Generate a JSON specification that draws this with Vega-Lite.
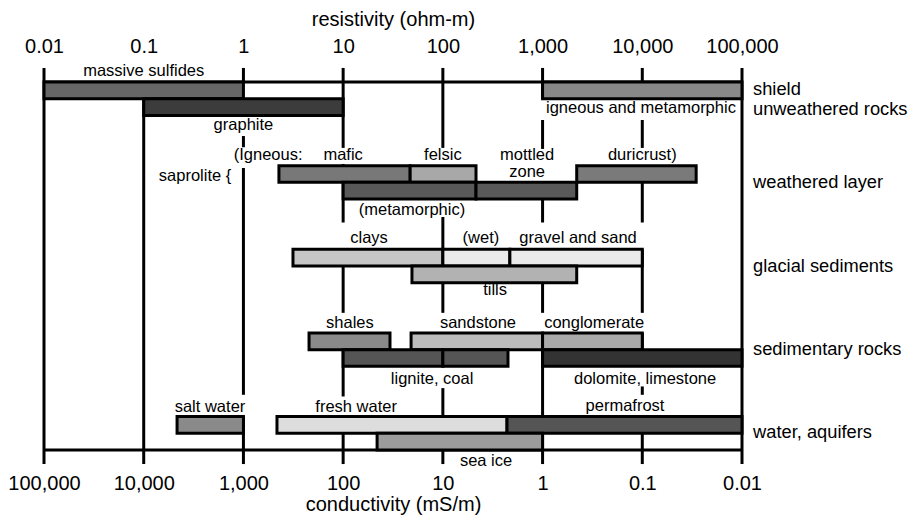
{
  "$schema": "https://vega.github.io/schema/vega-lite/v6.json",
  "width": 698,
  "height": 368,
  "autosize": {"type": "none"},
  "padding": {"left": 44, "top": 82, "right": 167, "bottom": 71},
  "background": "white",
  "config": {
    "font": "Liberation Sans",
    "view": {"stroke": null},
    "axis": {
      "domain": false, "ticks": false, "grid": false,
      "labelFontSize": 20, "titleFontSize": 20, "titleFontWeight": "normal",
      "labelColor": "black", "titleColor": "black",
      "labelFlush": false, "labelOverlap": false,
      "labelFont": "Liberation Sans", "titleFont": "Liberation Sans"
    }
  },
  "datasets": {
    "bars": [
      {"material": "massive sulfides", "lo": 0.01, "hi": 1, "top": 0, "bottom": 1},
      {"material": "shield", "lo": 1000, "hi": 100000, "top": 0, "bottom": 1},
      {"material": "graphite", "lo": 0.1, "hi": 10, "top": 1, "bottom": 2},
      {"material": "mafic", "lo": 2.27, "hi": 47, "top": 5, "bottom": 6},
      {"material": "felsic", "lo": 47, "hi": 215, "top": 5, "bottom": 6},
      {"material": "duricrust", "lo": 2200, "hi": 34700, "top": 5, "bottom": 6},
      {"material": "metamorphic", "lo": 10, "hi": 215, "top": 6, "bottom": 7},
      {"material": "mottled zone", "lo": 215, "hi": 2200, "top": 6, "bottom": 7},
      {"material": "clays", "lo": 3.14, "hi": 100, "top": 10, "bottom": 11},
      {"material": "wet", "lo": 100, "hi": 470, "top": 10, "bottom": 11},
      {"material": "gravel and sand", "lo": 470, "hi": 10000, "top": 10, "bottom": 11},
      {"material": "tills", "lo": 49, "hi": 2200, "top": 11, "bottom": 12},
      {"material": "shales", "lo": 4.55, "hi": 29.5, "top": 15, "bottom": 16},
      {"material": "sandstone", "lo": 48, "hi": 1000, "top": 15, "bottom": 16},
      {"material": "conglomerate", "lo": 1000, "hi": 10000, "top": 15, "bottom": 16},
      {"material": "lignite, coal", "lo": 10, "hi": 100, "top": 16, "bottom": 17},
      {"material": "lignite, coal", "lo": 100, "hi": 450, "top": 16, "bottom": 17},
      {"material": "dolomite, limestone", "lo": 1000, "hi": 100000, "top": 16, "bottom": 17},
      {"material": "salt water", "lo": 0.216, "hi": 1, "top": 20, "bottom": 21},
      {"material": "fresh water", "lo": 2.17, "hi": 440, "top": 20, "bottom": 21},
      {"material": "permafrost", "lo": 440, "hi": 100000, "top": 20, "bottom": 21},
      {"material": "sea ice", "lo": 21.9, "hi": 1000, "top": 21, "bottom": 22}
    ],
    "grid": [
      {"v": 0.01, "a": -0.84, "b": 22.84},
      {"v": 0.1, "a": 1, "b": 22.84},
      {"v": 1, "a": -0.84, "b": 0},
      {"v": 1, "a": 3.23, "b": 3.9},
      {"v": 1, "a": 5.14, "b": 18.7},
      {"v": 1, "a": 20, "b": 22.84},
      {"v": 10, "a": -0.84, "b": 3.94},
      {"v": 10, "a": 4.9, "b": 8.4},
      {"v": 10, "a": 10.9, "b": 13.8},
      {"v": 10, "a": 15, "b": 18.8},
      {"v": 10, "a": 21, "b": 22.84},
      {"v": 100, "a": -0.84, "b": 3.94},
      {"v": 100, "a": 8.07, "b": 10},
      {"v": 100, "a": 11, "b": 13.8},
      {"v": 100, "a": 18.3, "b": 20},
      {"v": 100, "a": 22, "b": 22.84},
      {"v": 1000, "a": -0.84, "b": 1},
      {"v": 1000, "a": 2.27, "b": 4.0},
      {"v": 1000, "a": 7, "b": 8.4},
      {"v": 1000, "a": 11, "b": 13.8},
      {"v": 1000, "a": 15, "b": 22.84},
      {"v": 10000, "a": -0.84, "b": 0},
      {"v": 10000, "a": 2.27, "b": 3.94},
      {"v": 10000, "a": 5, "b": 8.4},
      {"v": 10000, "a": 10, "b": 13.8},
      {"v": 10000, "a": 15, "b": 17},
      {"v": 10000, "a": 18.2, "b": 18.7},
      {"v": 10000, "a": 21, "b": 22.84},
      {"v": 100000, "a": -0.84, "b": 22.84}
    ],
    "hlines": [
      {"lo": 0.01, "hi": 100000, "level": 0},
      {"lo": 0.01, "hi": 100000, "level": 22}
    ],
    "labels": [
      {"text": "massive sulfides", "x": 0.1, "y": -0.66},
      {"text": "igneous and metamorphic", "x": 9700, "y": 1.55},
      {"text": "graphite", "x": 1, "y": 2.57},
      {"text": "(Igneous:", "x": 1.77, "y": 4.36},
      {"text": "saprolite {", "x": 0.327, "y": 5.62},
      {"text": "mafic", "x": 10, "y": 4.36},
      {"text": "felsic", "x": 100, "y": 4.36},
      {"text": "mottled", "x": 700, "y": 4.36},
      {"text": "zone", "x": 700, "y": 5.38},
      {"text": "duricrust)", "x": 10000, "y": 4.36},
      {"text": "(metamorphic)", "x": 49, "y": 7.65},
      {"text": "clays", "x": 18.2, "y": 9.32},
      {"text": "(wet)", "x": 241, "y": 9.32},
      {"text": "gravel and sand", "x": 2270, "y": 9.32},
      {"text": "tills", "x": 334, "y": 12.43},
      {"text": "shales", "x": 11.7, "y": 14.4},
      {"text": "sandstone", "x": 225, "y": 14.4},
      {"text": "conglomerate", "x": 3290, "y": 14.4},
      {"text": "lignite, coal", "x": 78, "y": 17.75},
      {"text": "dolomite, limestone", "x": 10670, "y": 17.75},
      {"text": "salt water", "x": 0.462, "y": 19.43},
      {"text": "fresh water", "x": 13.5, "y": 19.43},
      {"text": "permafrost", "x": 6710, "y": 19.37},
      {"text": "sea ice", "x": 271, "y": 22.65}
    ],
    "groups": [
      {"text": "shield", "x": 129000, "y": 0.48},
      {"text": "unweathered rocks", "x": 129000, "y": 1.67},
      {"text": "weathered layer", "x": 129000, "y": 6.04},
      {"text": "glacial sediments", "x": 129000, "y": 11.06},
      {"text": "sedimentary rocks", "x": 129000, "y": 16.02},
      {"text": "water, aquifers", "x": 129000, "y": 20.98}
    ]
  },
  "resolve": {"axis": {"x": "independent"}},
  "layer": [
    {
      "data": {"name": "grid"},
      "mark": {"type": "rule", "color": "black", "strokeWidth": 3},
      "encoding": {
        "x": {
          "field": "v", "type": "quantitative",
          "scale": {"type": "log", "domain": [0.01, 100000], "nice": false},
          "axis": {
            "orient": "top", "values": [0.01, 0.1, 1, 10, 100, 1000, 10000, 100000],
            "labelExpr": "format(datum.value, ',')",
            "labelPadding": 26, "title": "resistivity (ohm-m)", "titlePadding": 7
          }
        },
        "y": {
          "field": "a", "type": "quantitative",
          "scale": {"domain": [0, 22], "reverse": true, "nice": false, "zero": false},
          "axis": null
        },
        "y2": {"field": "b"}
      }
    },
    {
      "data": {"name": "hlines"},
      "mark": {"type": "rule", "color": "black", "strokeWidth": 3},
      "encoding": {
        "x": {
          "field": "lo", "type": "quantitative",
          "axis": {
            "orient": "bottom", "values": [0.01, 0.1, 1, 10, 100, 1000, 10000, 100000],
            "labelExpr": "format(1000 / datum.value, ',')",
            "labelPadding": 23, "title": "conductivity (mS/m)", "titlePadding": 1
          }
        },
        "x2": {"field": "hi"},
        "y": {"field": "level", "type": "quantitative"}
      }
    },
    {
      "data": {"name": "bars"},
      "mark": {"type": "rect", "stroke": "black", "strokeWidth": 3},
      "encoding": {
        "x": {"field": "lo", "type": "quantitative", "axis": null},
        "x2": {"field": "hi"},
        "y": {"field": "top", "type": "quantitative"},
        "y2": {"field": "bottom"},
        "color": {
          "field": "material", "type": "nominal", "legend": null,
          "scale": {
            "domain": ["massive sulfides", "shield", "graphite", "mafic", "felsic", "duricrust", "metamorphic", "mottled zone", "clays", "wet", "gravel and sand", "tills", "shales", "sandstone", "conglomerate", "lignite, coal", "dolomite, limestone", "salt water", "fresh water", "permafrost", "sea ice"],
            "range": ["#676767", "#888888", "#3c3c3c", "#787878", "#a8a8a8", "#7a7a7a", "#595959", "#595959", "#c6c6c6", "#eaeaea", "#eaeaea", "#b2b2b2", "#8a8a8a", "#bcbcbc", "#aaaaaa", "#555555", "#333333", "#8a8a8a", "#dddddd", "#555555", "#9c9c9c"]
          }
        }
      }
    },
    {
      "data": {"name": "labels"},
      "mark": {"type": "text", "fontSize": 16.5, "color": "black", "align": "center", "baseline": "middle"},
      "encoding": {
        "x": {"field": "x", "type": "quantitative", "axis": null},
        "y": {"field": "y", "type": "quantitative"},
        "text": {"field": "text"}
      }
    },
    {
      "data": {"name": "groups"},
      "mark": {"type": "text", "fontSize": 18.3, "color": "black", "align": "left", "baseline": "middle"},
      "encoding": {
        "x": {"field": "x", "type": "quantitative", "axis": null},
        "y": {"field": "y", "type": "quantitative"},
        "text": {"field": "text"}
      }
    }
  ]
}
